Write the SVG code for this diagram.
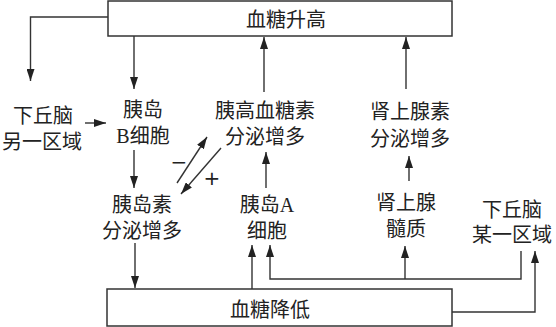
<svg xmlns="http://www.w3.org/2000/svg" width="556" height="327" viewBox="0 0 556 327">
<style>
  text { font-family: "Liberation Serif", "Noto Sans CJK SC", serif; font-size: 20px; fill: #222; text-anchor: middle; dominant-baseline: central; }
  .box { fill: #fff; stroke: #333; stroke-width: 1.5; }
  .c { fill: none; stroke: #333; stroke-width: 1.4; }
  .a { marker-end: url(#ah); }
  .sign { font-family: "DejaVu Sans", sans-serif; font-size: 20px; }
</style>
<defs>
  <marker id="ah" markerUnits="userSpaceOnUse" markerWidth="12" markerHeight="8" refX="12" refY="4" orient="auto">
    <path d="M0,0 L12,4 L0,8 Z" fill="#222"/>
  </marker>
</defs>
<rect width="556" height="327" fill="#fff"/>

<g id="connectors">
  <path class="c a" d="M108,17 H30.5 V81"/>
  <path class="c a" d="M134,36 V89"/>
  <path class="c a" d="M85,123 H106"/>
  <path class="c a" d="M264,92 V37"/>
  <path class="c a" d="M406,89 V37"/>
  <path class="c a" d="M134,150 V188"/>
  <path class="c a" d="M177,183 L207,137"/>
  <path class="c a" d="M221,148 L181,194"/>
  <path class="c a" d="M266,188 V152"/>
  <path class="c a" d="M409,181 V156"/>
  <path class="c a" d="M135,243 V288"/>
  <path class="c a" d="M252,289 V245"/>
  <path class="c a" d="M521,251 V279 H270 V245"/>
  <path class="c a" d="M405,279 V246"/>
  <path class="c a" d="M452,312 H535 V251"/>
  <text class="sign" x="179" y="162">−</text>
  <text class="sign" x="212" y="178">+</text>
</g>

<g id="top-box">
  <rect class="box" x="108" y="1" width="344" height="35"/>
  <text x="286" y="20">血糖升高</text>
</g>
<g id="bottom-box">
  <rect class="box" x="107" y="289" width="345" height="37"/>
  <text x="270" y="310">血糖降低</text>
</g>
<g id="hypothalamus-other">
  <text x="43" y="116">下丘脑</text>
  <text x="42" y="142">另一区域</text>
</g>
<g id="beta-cell">
  <text x="143" y="110">胰岛</text>
  <text x="143" y="136">B细胞</text>
</g>
<g id="glucagon">
  <text x="265" y="111">胰高血糖素</text>
  <text x="265" y="137">分泌增多</text>
</g>
<g id="adrenaline">
  <text x="410" y="112">肾上腺素</text>
  <text x="410" y="139">分泌增多</text>
</g>
<g id="insulin">
  <text x="142" y="205">胰岛素</text>
  <text x="142" y="231">分泌增多</text>
</g>
<g id="alpha-cell">
  <text x="267" y="205">胰岛A</text>
  <text x="267" y="231">细胞</text>
</g>
<g id="adrenal-medulla">
  <text x="406" y="203">肾上腺</text>
  <text x="406" y="229">髓质</text>
</g>
<g id="hypothalamus-some">
  <text x="512" y="210">下丘脑</text>
  <text x="512" y="235">某一区域</text>
</g>
</svg>
